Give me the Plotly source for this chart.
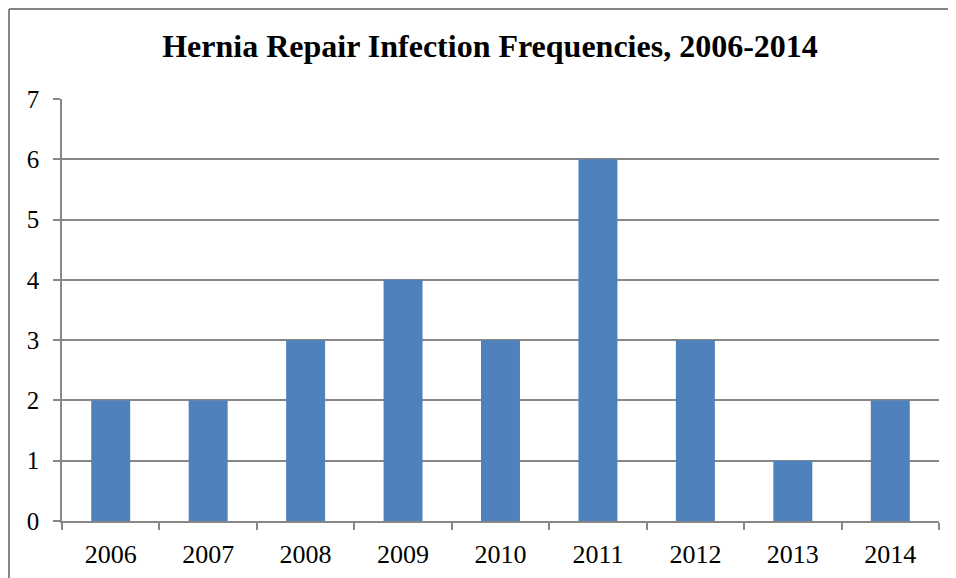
import plotly.graph_objects as go

years = ["2006", "2007", "2008", "2009", "2010", "2011", "2012", "2013", "2014"]
infections = [2, 2, 3, 4, 3, 6, 3, 1, 2]
y_ticks = [0, 1, 2, 3, 4, 5, 6, 7]

# page body adds an 8px offset; layout expressed in figure coordinates
OFF = 8
W, H = 948, 570
L = 62 - OFF
T = 99 - OFF
R = W - (939 - OFF)
B = H - (521 - OFF)
pw = W - L - R
ph = H - T - B

def px_x(p):
    return (p - OFF - L) / pw

def px_y(p):
    return (H - B - (p - OFF)) / ph

fig = go.Figure(go.Bar(
    x=years, y=infections,
    marker=dict(color="#4F81BD", line=dict(width=0)),
    width=0.4,
))

grid = "#878787"
fig.update_layout(
    width=W, height=H,
    margin=dict(l=L, r=R, t=T, b=B, autoexpand=False),
    paper_bgcolor="white", plot_bgcolor="white",
    showlegend=False,
    title=dict(text="<b>Hernia Repair Infection Frequencies, 2006-2014</b>",
               x=(490 - OFF) / W, xanchor="center", y=1 - (46 - OFF) / H, yanchor="middle",
               font=dict(family="Liberation Serif", size=32, color="black")),
    font=dict(family="Liberation Serif", color="black"),
    xaxis=dict(
        type="category", showline=True, linecolor=grid, linewidth=1.5,
        ticks="outside", tickson="boundaries", ticklen=7, tickcolor=grid, tickwidth=1.5,
        tickfont=dict(size=26, family="Liberation Serif", color="black"),
        showgrid=False, ticklabelstandoff=9, automargin=False,
    ),
    yaxis=dict(
        range=[0, 7], tickvals=y_ticks, showline=True, linecolor=grid, linewidth=1.5,
        ticks="outside", ticklen=7, tickcolor=grid, tickwidth=1.5,
        gridcolor=grid, gridwidth=1.5, zeroline=False,
        tickfont=dict(size=25, family="Liberation Serif", color="black"),
        ticklabelstandoff=9, automargin=False,
    ),
    shapes=[
        dict(type="line", xref="paper", yref="paper",
             x0=px_x(9), x1=px_x(9), y0=px_y(H + 40), y1=px_y(9),
             line=dict(color="#868686", width=2), layer="below"),
        dict(type="line", xref="paper", yref="paper",
             x0=px_x(9), x1=px_x(W + 40), y0=px_y(9), y1=px_y(9),
             line=dict(color="#868686", width=2), layer="below"),
    ],
)

fig.write_html("out.html")
